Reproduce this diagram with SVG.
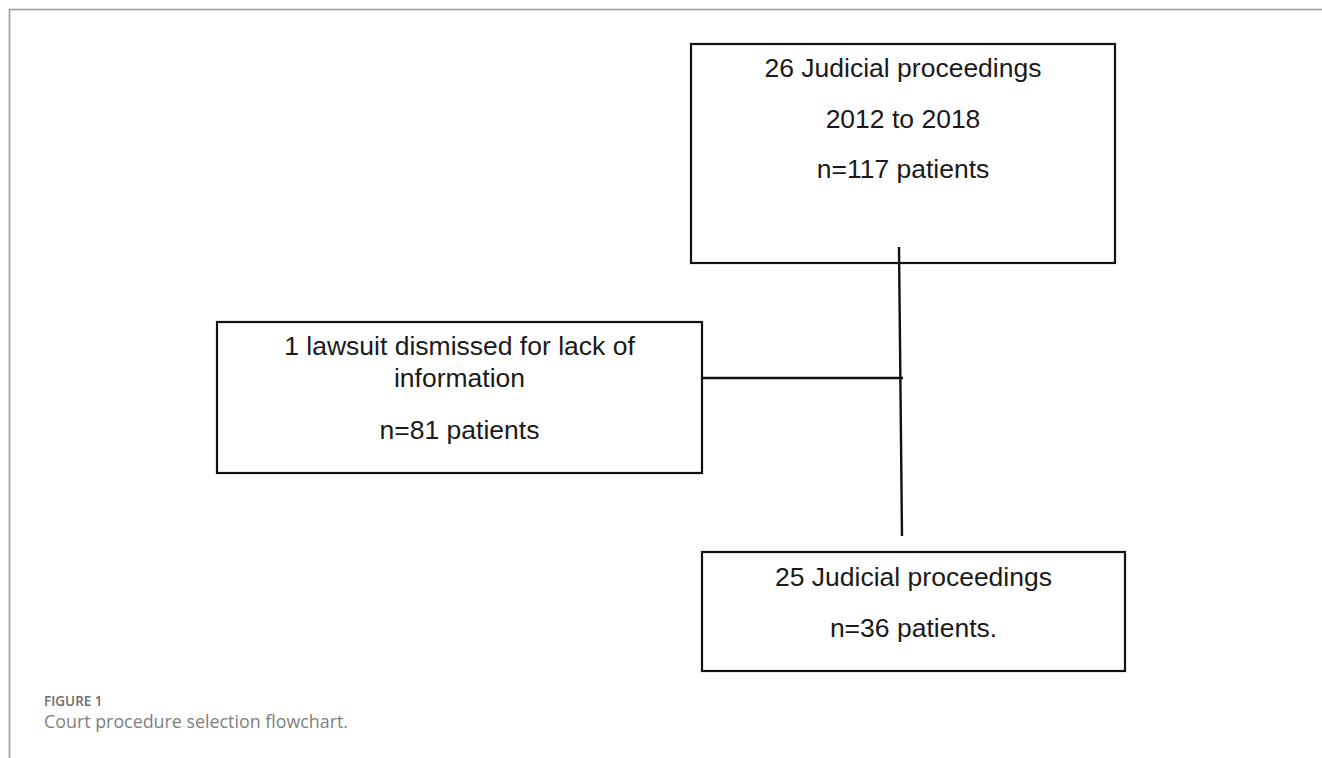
<svg xmlns="http://www.w3.org/2000/svg" width="1322" height="758" viewBox="0 0 1322 758">
<style>
.box{fill:#fff;stroke:#111;stroke-width:2.2}
.t{font-family:"Liberation Sans",Arial,sans-serif;font-size:26.5px;fill:#1a1a1a;text-anchor:middle}
.conn{stroke:#111;stroke-width:2.4;fill:none}
.frame{stroke:#9a9a9a;stroke-width:1.6;fill:none}
</style>
<rect width="1322" height="758" fill="#fff"/>
<path class="frame" d="M9.5 758 V9.5 H1322"/>
<g id="node-top">
<rect class="box" x="691" y="44" width="424" height="219"/>
<text class="t" x="903" y="77">26 Judicial proceedings</text>
<text class="t" x="903" y="128">2012 to 2018</text>
<text class="t" x="903" y="178">n=117 patients</text>
</g>
<g id="node-excluded">
<rect class="box" x="217" y="322" width="485" height="151"/>
<text class="t" x="459.5" y="355">1 lawsuit dismissed for lack of</text>
<text class="t" x="459.5" y="387">information</text>
<text class="t" x="459.5" y="439">n=81 patients</text>
</g>
<g id="node-bottom">
<rect class="box" x="702" y="552" width="423" height="119"/>
<text class="t" x="913.5" y="586">25 Judicial proceedings</text>
<text class="t" x="913.5" y="637">n=36 patients.</text>
</g>
<g id="connectors">
<line class="conn" x1="899" y1="247" x2="902" y2="536"/>
<line class="conn" x1="702" y1="378" x2="903" y2="378"/>
</g>
<g id="caption">
<text x="44" y="706" font-family="'Open Sans',sans-serif" font-weight="600" font-size="13.5" fill="#6e6e6e">FIGURE 1</text>
<text x="44" y="728" font-family="'Open Sans',sans-serif" font-size="18" fill="#808080" textLength="304" lengthAdjust="spacingAndGlyphs">Court procedure selection flowchart.</text>
</g>
</svg>
